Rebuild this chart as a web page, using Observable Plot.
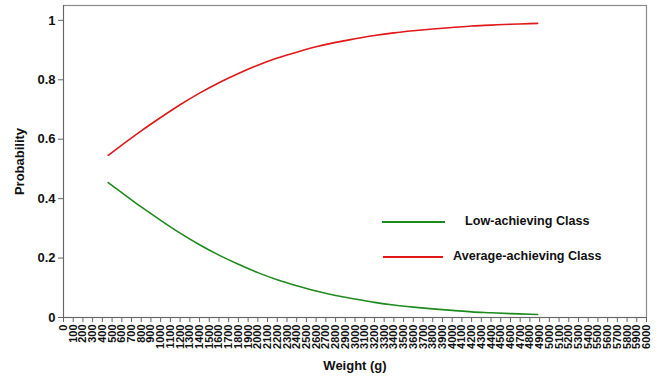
<!DOCTYPE html>
<html><head><meta charset="utf-8">
<script src="https://cdn.jsdelivr.net/npm/d3@7"></script>
<script src="https://cdn.jsdelivr.net/npm/@observablehq/plot@0.6"></script>
<style>
html,body{margin:0;padding:0;background:#fff;}
#wrap{position:relative;width:661px;height:382px;font-family:"Liberation Sans",Arial,sans-serif;}
.leg{position:absolute;font-weight:bold;font-size:12.6px;color:#111;white-space:nowrap;}
.sw{position:absolute;height:2px;}
</style>
</head><body>
<div id="wrap"></div>
<script>
const weights = [460,600,800,1000,1200,1400,1600,1800,2000,2200,2400,2600,2800,3000,3200,3400,3600,3800,4000,4200,4400,4600,4800,4880];
const averageClass = [0.546,0.580,0.628,0.673,0.716,0.755,0.790,0.821,0.849,0.873,0.893,0.911,0.926,0.938,0.949,0.958,0.965,0.971,0.976,0.981,0.984,0.987,0.989,0.990];
const lowClass = [0.454,0.420,0.372,0.327,0.284,0.245,0.210,0.179,0.151,0.127,0.107,0.089,0.074,0.062,0.051,0.042,0.035,0.029,0.024,0.019,0.016,0.013,0.011,0.010];
const seriesNames = ["Low-achieving Class","Average-achieving Class"];
const seriesColors = ["#1e8a1e","#e01818"];
const xTicks = d3.range(0, 6001, 100);
const yTicks = [0,0.2,0.4,0.6,0.8,1];
const yTickLabels = ["0","0.2","0.4","0.6","0.8","1"];

const rows = [];
weights.forEach((w,i)=>{
  rows.push({w, p: lowClass[i], s: seriesNames[0]});
  rows.push({w, p: averageClass[i], s: seriesNames[1]});
});

const chart = Plot.plot({
  width: 661, height: 382,
  marginLeft: 63, marginRight: 15, marginTop: 5, marginBottom: 65,
  style: {fontFamily: '"Liberation Sans", Arial, sans-serif', background: "#fff", color: "#111"},
  x: {domain: [0, 6000]},
  y: {domain: [0, 1.05]},
  color: {domain: seriesNames, range: seriesColors},
  marks: [
    Plot.frame({stroke: "#8a8a8a", strokeWidth: 1.2}),
    Plot.axisX({ticks: xTicks, tickFormat: d => String(d), tickRotate: -90, tickSize: 5, tickPadding: 2,
      stroke: "#666", fontSize: 11, fontWeight: "bold", label: "Weight (g)", labelAnchor: "center",
      labelOffset: 52, labelArrow: "none"}),
    Plot.axisY({ticks: yTicks, tickFormat: d => yTickLabels[yTicks.indexOf(d)], tickSize: 5, tickPadding: 3,
      stroke: "#666", fontSize: 13, fontWeight: "bold", label: "Probability", labelAnchor: "center",
      labelOffset: 49, labelArrow: "none"}),
    Plot.ruleY([0], {stroke: "#666"}),
    Plot.ruleX([0], {stroke: "#666"}),
    Plot.line(rows, {x: "w", y: "p", stroke: "s", strokeWidth: 1.6, curve: "monotone-x"})
  ]
});
chart.querySelectorAll("g[aria-label='x-axis label'] text, g[aria-label='y-axis label'] text").forEach(t=>{
  t.setAttribute("font-weight","bold"); t.setAttribute("font-size","13");
});
const wrap = document.getElementById("wrap");
wrap.appendChild(chart);

const legendItems = [
  {name: seriesNames[0], color: seriesColors[0], top: 214, lineLeft: 382, lineW: 63, textLeft: 465},
  {name: seriesNames[1], color: seriesColors[1], top: 249, lineLeft: 383, lineW: 60, textLeft: 453}
];
legendItems.forEach(it=>{
  const sw = document.createElement("div");
  sw.className = "sw";
  sw.style.left = it.lineLeft+"px"; sw.style.top = (it.top+7)+"px";
  sw.style.width = it.lineW+"px"; sw.style.background = it.color;
  wrap.appendChild(sw);
  const tx = document.createElement("div");
  tx.className = "leg"; tx.textContent = it.name;
  tx.style.left = it.textLeft+"px"; tx.style.top = it.top+"px";
  wrap.appendChild(tx);
});
</script>
</body></html>
